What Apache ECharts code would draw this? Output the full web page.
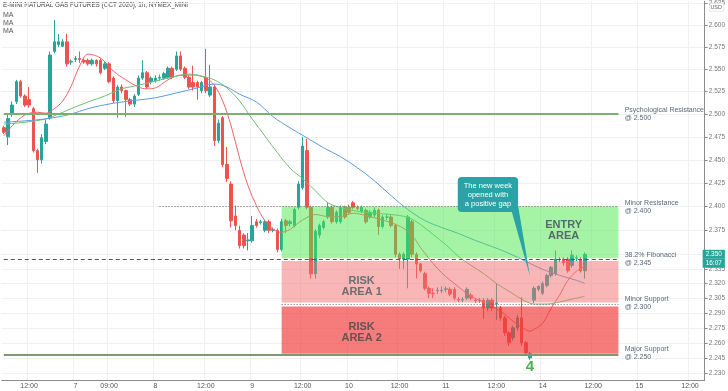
<!DOCTYPE html>
<html><head><meta charset="utf-8">
<script src="https://cdn.jsdelivr.net/npm/echarts@6/dist/echarts.min.js"></script>
<style>html,body{margin:0;padding:0;background:#fff}#c{width:728px;height:391px}</style>
</head><body><div id="c"></div>
<script>
// ---- candle data (hourly bars) ----
const open = [2.485,2.475,2.500,2.514,2.536,2.520,2.516,2.506,2.460,2.450,2.470,2.496,2.570,2.578,2.576,2.581,2.558,2.561,2.562,2.560,
2.560,2.556,2.560,2.560,2.551,2.556,2.540,2.515,2.530,2.526,2.516,2.511,2.522,2.540,2.546,2.536,2.537,2.540,2.540,2.541,
2.551,2.550,2.565,2.551,2.541,2.535,2.535,2.526,2.540,2.521,2.530,2.471,2.496,2.445,2.424,2.390,2.375,2.370,2.364,2.364,
2.384,2.383,2.375,2.384,2.375,2.375,2.355,2.385,2.382,2.380,2.399,2.420,2.460,2.399,2.330,2.370,2.378,2.389,2.399,2.384,
2.384,2.399,2.399,2.404,2.399,2.395,2.396,2.389,2.391,2.396,2.379,2.389,2.389,2.380,2.350,2.345,2.345,2.384,2.350,2.340,
2.330,2.315,2.310,2.3125,2.3125,2.314,2.314,2.314,2.3035,2.303,2.305,2.308,2.303,2.3025,2.303,2.295,2.303,2.2995,2.295,2.285,
2.270,2.265,2.275,2.285,2.260,2.245,2.303,2.314,2.310,2.318,2.328,2.330,2.3445,2.345,2.345,2.3385,2.346,2.345,2.333];
const high = [2.487,2.499,2.514,2.538,2.538,2.522,2.530,2.508,2.462,2.478,2.494,2.570,2.606,2.590,2.584,2.590,2.561,2.565,2.570,2.562,
2.562,2.562,2.561,2.562,2.558,2.558,2.542,2.532,2.533,2.527,2.518,2.522,2.543,2.560,2.548,2.542,2.543,2.544,2.547,2.553,
2.553,2.570,2.570,2.553,2.543,2.554,2.537,2.537,2.573,2.555,2.533,2.494,2.498,2.464,2.427,2.401,2.380,2.372,2.372,2.390,
2.387,2.386,2.386,2.386,2.378,2.377,2.387,2.387,2.386,2.399,2.427,2.475,2.473,2.401,2.376,2.382,2.386,2.404,2.401,2.396,
2.401,2.401,2.402,2.406,2.401,2.401,2.398,2.396,2.399,2.398,2.391,2.392,2.391,2.382,2.352,2.352,2.391,2.386,2.352,2.341,
2.332,2.317,2.315,2.316,2.317,2.317,2.316,2.316,2.306,2.306,2.316,2.310,2.305,2.305,2.305,2.305,2.305,2.320,2.297,2.287,
2.272,2.277,2.288,2.306,2.262,2.251,2.317,2.318,2.322,2.330,2.338,2.354,2.347,2.347,2.347,2.354,2.349,2.347,2.352];
const low = [2.478,2.466,2.497,2.511,2.518,2.508,2.507,2.458,2.436,2.446,2.467,2.494,2.568,2.575,2.575,2.553,2.555,2.558,2.557,2.556,
2.554,2.554,2.553,2.544,2.549,2.534,2.512,2.496,2.523,2.497,2.509,2.508,2.520,2.538,2.528,2.533,2.535,2.537,2.538,2.539,
2.539,2.548,2.548,2.539,2.528,2.526,2.516,2.523,2.523,2.519,2.465,2.468,2.442,2.426,2.378,2.375,2.356,2.356,2.354,2.362,
2.378,2.381,2.373,2.372,2.373,2.352,2.353,2.372,2.379,2.378,2.397,2.418,2.397,2.325,2.325,2.367,2.376,2.387,2.382,2.382,
2.382,2.387,2.392,2.397,2.396,2.393,2.382,2.387,2.389,2.370,2.377,2.386,2.378,2.347,2.335,2.335,2.315,2.347,2.325,2.331,
2.313,2.305,2.305,2.309,2.310,2.311,2.307,2.303,2.301,2.301,2.303,2.303,2.300,2.300,2.284,2.292,2.292,2.283,2.282,2.267,
2.257,2.262,2.272,2.257,2.248,2.243,2.300,2.312,2.308,2.316,2.326,2.328,2.342,2.338,2.331,2.336,2.343,2.331,2.325];
const close = [2.480,2.495,2.510,2.536,2.520,2.510,2.510,2.460,2.450,2.474,2.489,2.566,2.581,2.581,2.581,2.556,2.559,2.562,2.561,2.558,
2.556,2.560,2.556,2.546,2.556,2.536,2.515,2.530,2.526,2.516,2.511,2.520,2.540,2.546,2.530,2.540,2.540,2.541,2.545,2.551,
2.541,2.565,2.550,2.541,2.530,2.530,2.530,2.535,2.526,2.530,2.471,2.490,2.445,2.430,2.385,2.380,2.359,2.359,2.365,2.380,
2.380,2.384,2.384,2.375,2.376,2.355,2.384,2.380,2.384,2.397,2.424,2.465,2.399,2.330,2.374,2.380,2.384,2.399,2.384,2.394,
2.399,2.389,2.394,2.399,2.398,2.399,2.384,2.394,2.396,2.379,2.389,2.389,2.380,2.350,2.345,2.350,2.389,2.350,2.340,2.333,
2.315,2.310,2.3095,2.313,2.313,2.3145,2.309,2.305,2.303,2.3035,2.314,2.305,2.3025,2.303,2.295,2.303,2.295,2.300,2.285,2.270,
2.260,2.275,2.285,2.260,2.250,2.249,2.315,2.317,2.320,2.328,2.3365,2.345,2.345,2.341,2.333,2.349,2.3465,2.333,2.350];

// ---- moving averages: [bar index, value] ----
const maFast = [[0,2.476],[2,2.487],[5,2.499],[8,2.502],[10,2.501],[12,2.506],[14,2.5145],[16,2.531],[18,2.5535],[20,2.567],[23,2.5625],
[26,2.548],[29,2.538],[32,2.530],[34,2.528],[36,2.529],[39,2.538],[42,2.5434],[45,2.5434],[48,2.540],[50,2.532],[52,2.5145],[54,2.487],
[56,2.452],[58,2.4223],[60,2.401],[62,2.3853],[64,2.376],[66,2.373],[68,2.376],[70,2.383],[72,2.3885],[74,2.3916],[77,2.3895],[80,2.3895],
[83,2.393],[86,2.3905],[89,2.387],[92,2.383],[95,2.377],[97,2.3696],[99,2.357],[101,2.3457],[103,2.3354],[105,2.327],[107,2.320],[109,2.313],
[111,2.307],[113,2.3028],[115,2.299],[117,2.294],[119,2.2887],[121,2.2816],[123,2.2756],[125,2.2716],[126,2.2736],[128,2.2796],[130,2.2947],
[132,2.3079],[134,2.3232],[136,2.3324],[138,2.3375]];
const maMid = [[0,2.489],[5,2.491],[10,2.4947],[13,2.500],[16,2.506],[20,2.5134],[24,2.520],[28,2.528],[32,2.532],[36,2.5367],[40,2.541],
[44,2.5445],[47,2.5423],[50,2.538],[53,2.529],[56,2.5145],[59,2.4947],[62,2.476],[65,2.4577],[68,2.441],[71,2.4297],[74,2.4169],[77,2.404],
[80,2.399],[84,2.395],[88,2.393],[92,2.3916],[96,2.3885],[99,2.381],[102,2.3706],[105,2.360],[108,2.3478],[111,2.3385],[114,2.330],[117,2.320],
[120,2.312],[123,2.304],[126,2.299],[129,2.299],[132,2.301],[135,2.304],[138,2.3069]];
const maSlow = [[0,2.491],[5,2.4925],[10,2.4947],[13,2.497],[16,2.500],[20,2.506],[26,2.512],[32,2.5156],[36,2.518],[41,2.5234],[46,2.529],
[50,2.5334],[53,2.530],[56,2.522],[60,2.5134],[64,2.497],[68,2.4848],[72,2.474],[76,2.463],[80,2.4534],[84,2.4415],[88,2.4276],[92,2.4116],
[96,2.3968],[100,2.3853],[104,2.378],[108,2.3717],[112,2.3644],[116,2.358],[120,2.351],[124,2.3427],[128,2.3344],[132,2.3283],[136,2.3232],[138,2.320]];

// ---- axes ----
const barCount = 167;
const categories = Array.from({length: barCount}, (_, i) => String(i));
const xTickIdx = [6,17,25,36,48,59,71,82,94,105,117,128,140,151,163];
const xTickText = ['12:00','7','09:00','8','12:00','9','12:00','10','12:00','11','12:00','14','12:00','15','12:00'];
const yTickValues = [2.625,2.600,2.575,2.550,2.525,2.500,2.475,2.450,2.425,2.400,2.375,2.350,2.335,2.320,2.305,2.290,2.275,2.260,2.245,2.230];
const yLabelValues = [2.625,2.600,2.575,2.550,2.525,2.500,2.475,2.450,2.425,2.400,2.375,2.335,2.320,2.305,2.290,2.275,2.260,2.245,2.230];

// ---- levels & zones ----
const psychLevel = 2.500, minorResLevel = 2.400, fibLevel = 2.345, minorSupLevel = 2.2985, majorSupLevel = 2.248;
const entryZone = [2.346, 2.400], risk1Zone = [2.3005, 2.343], risk2Zone = [2.249, 2.2965];
const lastPrice = 2.350;

const FONT = 'Liberation Sans, Arial, sans-serif';
const chart = echarts.init(document.getElementById('c'), null, {renderer: 'canvas'});
const candles = open.map((o, i) => [o, close[i], low[i], high[i]]);
const zoneStart = 66, zoneEnd = 146, labelIdx = 147;

function textPoint(idx, val, text, style) {
  return {coord: [idx, val], symbol: 'circle', symbolSize: 0, label: Object.assign({show: true, formatter: text, fontFamily: FONT}, style)};
}
const sideText = {position: 'right', distance: 0, offset: [2, 0], align: 'left', fontSize: 7, lineHeight: 8, color: '#5c687a'};

chart.setOption({
  animation: false,
  grid: {left: 1.7, right: 21.6, top: 0, bottom: 11},
  xAxis: {
    type: 'category', data: categories, boundaryGap: true,
    axisLine: {show: true, lineStyle: {color: '#8c8c8c'}},
    axisTick: {show: false},
    axisLabel: {interval: (i) => xTickIdx.includes(i), formatter: (v, i) => { const k = xTickIdx.indexOf(i); return k >= 0 ? xTickText[k] : ''; },
      fontSize: 7, color: '#555', margin: 3, fontFamily: FONT},
    splitLine: {show: true, interval: (i) => xTickIdx.includes(i), lineStyle: {color: '#eef0f3', width: 1}}
  },
  yAxis: {
    type: 'log', logBase: 10, min: 2.2232, max: 2.6276, position: 'right', scale: true,
    axisLine: {show: true, lineStyle: {color: '#8c8c8c'}},
    axisTick: {show: true, length: 3, customValues: yTickValues, lineStyle: {color: '#8c8c8c'}},
    axisLabel: {customValues: yLabelValues, formatter: (v) => Number(v).toFixed(3), fontSize: 6.5, color: '#777', margin: 4, fontFamily: FONT},
    splitLine: {show: true, lineStyle: {color: '#eef0f3'}}
  },
  series: [
    {
      type: 'candlestick', data: candles, barWidth: 3, z: 2,
      itemStyle: {color: '#26a69a', color0: '#ef5350', borderColor: '#26a69a', borderColor0: '#ef5350', borderWidth: 1},
      markArea: {
        z: 4, silent: true,
        data: [
          [{xAxis: zoneStart, yAxis: entryZone[1], itemStyle: {color: 'rgba(76,232,76,0.5)'}}, {xAxis: zoneEnd, yAxis: entryZone[0]}],
          [{xAxis: zoneStart, yAxis: risk1Zone[1], itemStyle: {color: 'rgba(242,110,110,0.5)'}}, {xAxis: zoneEnd, yAxis: risk1Zone[0]}],
          [{xAxis: zoneStart, yAxis: risk2Zone[1], itemStyle: {color: 'rgba(242,56,56,0.66)'}}, {xAxis: zoneEnd, yAxis: risk2Zone[0]}]
        ]
      },
      markLine: {
        z: 5, silent: true, symbol: 'none', label: {show: false},
        data: [
          [{xAxis: 0, yAxis: psychLevel, lineStyle: {color: '#79b06c', width: 2, type: 'solid'}}, {xAxis: zoneEnd, yAxis: psychLevel}],
          [{xAxis: 0, yAxis: majorSupLevel, lineStyle: {color: '#7d9a6c', width: 2, type: 'solid'}}, {xAxis: zoneEnd, yAxis: majorSupLevel}],
          [{xAxis: 0, yAxis: fibLevel, lineStyle: {color: '#555', width: 1, type: [4, 3]}}, {xAxis: zoneEnd, yAxis: fibLevel}],
          [{xAxis: 37, yAxis: minorResLevel, lineStyle: {color: '#666', width: 1, type: [1, 2]}}, {xAxis: zoneEnd, yAxis: minorResLevel}],
          [{xAxis: zoneStart, yAxis: minorSupLevel, lineStyle: {color: '#666', width: 1, type: [1, 2]}}, {xAxis: zoneEnd, yAxis: minorSupLevel}]
        ]
      },
      markPoint: {
        z: 6, silent: true,
        data: [
          textPoint(labelIdx, psychLevel, 'Psychological Resistance\n@ 2.500', sideText),
          textPoint(labelIdx, minorResLevel, 'Minor Resistance\n@ 2.400', sideText),
          textPoint(labelIdx, fibLevel, '38.2% Fibonacci\n@ 2.345', sideText),
          textPoint(labelIdx, 2.300, 'Minor Support\n@ 2.300', sideText),
          textPoint(labelIdx, 2.250, 'Major Support\n@ 2.250', sideText),
          textPoint(133, 2.3748, 'ENTRY\nAREA', {position: 'inside', fontSize: 11, fontWeight: 'bold', color: '#566b6b', lineHeight: 11, align: 'center'}),
          textPoint(85, 2.317, 'RISK\nAREA 1', {position: 'inside', fontSize: 11, fontWeight: 'bold', color: '#6e6e70', lineHeight: 11, align: 'center'}),
          textPoint(85, 2.2706, 'RISK\nAREA 2', {position: 'inside', fontSize: 11, fontWeight: 'bold', color: '#6a5050', lineHeight: 11, align: 'center'}),
          textPoint(125, 2.236, '4', {position: 'inside', fontSize: 15, fontWeight: 'bold', color: '#4caf50'}),
          textPoint(115, 2.4127, 'The new week\nopened with\na positive gap', {position: 'inside', fontSize: 7.5, lineHeight: 9, color: '#fff',
            backgroundColor: '#2aa3a6', padding: [4, 6], borderRadius: 4, align: 'center'}),
          textPoint(166, lastPrice, '2.350', {position: 'right', distance: 0, fontSize: 6.5, color: '#fff', backgroundColor: '#26a69a', padding: [1, 3]}),
          textPoint(166, lastPrice, '16:07', {position: 'right', distance: 0, fontSize: 6.5, color: '#fff', backgroundColor: '#26a69a', padding: [1, 3], offset: [0, 9]})
        ]
      }
    },
    {type: 'line', data: maFast, symbol: 'none', smooth: 0.35, z: 3, lineStyle: {color: '#f06464', width: 1}},
    {type: 'line', data: maMid, symbol: 'none', smooth: 0.35, z: 3, lineStyle: {color: '#6fbf73', width: 1}},
    {type: 'line', data: maSlow, symbol: 'none', smooth: 0.35, z: 3, lineStyle: {color: '#5b9be0', width: 1}},
    {
      type: 'custom', z: 6, silent: true,
      data: [[120, 2.405, 122, 2.405, 125, 2.327]],
      renderItem: (params, api) => {
        const a = api.coord([api.value(0), api.value(1)]);
        const b = api.coord([api.value(2), api.value(3)]);
        const t = api.coord([api.value(4), api.value(5)]);
        return {type: 'polygon', shape: {points: [a, b, t]}, style: {fill: '#2aa3a6'}};
      }
    }
  ],
  graphic: [
    {type: 'text', left: 3, top: 2, style: {text: 'E-MINI NATURAL GAS FUTURES (OCT 2020), 1h, NYMEX_MINI', fontSize: 6.3, fill: '#444', fontFamily: FONT}},
    {type: 'text', left: 3, top: 12, style: {text: 'MA', fontSize: 7, fill: '#555', fontFamily: FONT}},
    {type: 'text', left: 3, top: 20, style: {text: 'MA', fontSize: 7, fill: '#555', fontFamily: FONT}},
    {type: 'text', left: 3, top: 28, style: {text: 'MA', fontSize: 7, fill: '#555', fontFamily: FONT}},
    {type: 'rect', right: 4, top: 3, shape: {width: 14, height: 8}, style: {fill: '#fff', stroke: '#ccc', lineWidth: 0.5}, z: 10},
    {type: 'text', right: 6, top: 4.5, style: {text: 'USD', fontSize: 5.5, fill: '#666', fontFamily: FONT}, z: 11}
  ]
});
</script></body></html>
